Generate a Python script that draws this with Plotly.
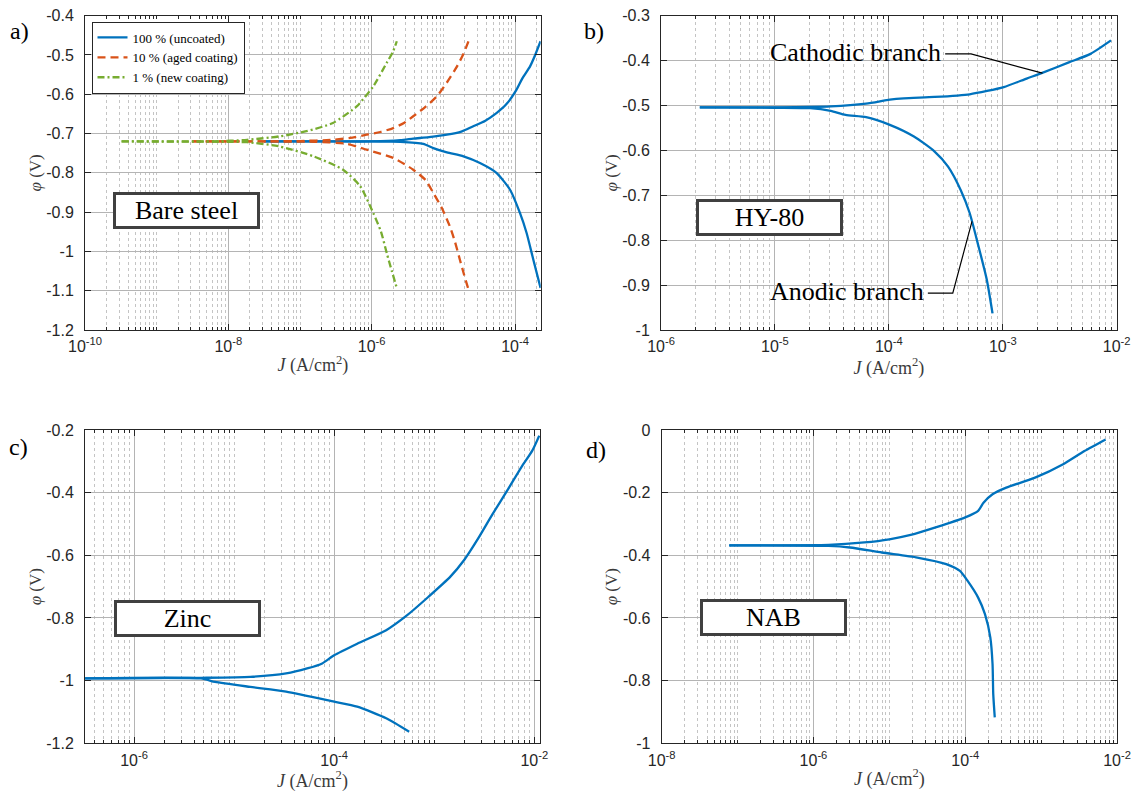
import math
import plotly.graph_objects as go

# ---------------- data (J in A/cm^2, phi in V) ----------------
# a) Bare steel
a_blue_cath_J = [3.16e-8, 1.0e-7, 3.16e-7, 1.0e-6, 2.51e-6, 3.80e-6, 6.31e-6, 1.12e-5, 1.78e-5, 2.57e-5,
                 3.80e-5, 5.50e-5, 7.59e-5, 1.05e-4, 1.26e-4, 1.62e-4, 1.91e-4, 2.27e-4]
a_blue_cath_V = [-0.720, -0.720, -0.720, -0.720, -0.717, -0.713, -0.709, -0.703, -0.695, -0.682,
                 -0.668, -0.648, -0.625, -0.588, -0.560, -0.529, -0.500, -0.465]
a_blue_an_J = [3.16e-8, 1.0e-6, 2.51e-6, 5.25e-6, 7.24e-6, 1.12e-5, 1.91e-5, 3.24e-5, 5.50e-5, 8.51e-5,
               1.17e-4, 1.45e-4, 1.80e-4, 2.27e-4]
a_blue_an_V = [-0.720, -0.720, -0.721, -0.726, -0.737, -0.748, -0.758, -0.775, -0.800, -0.843,
               -0.902, -0.953, -1.021, -1.093]
a_orange_cath_J = [3.16e-9, 3.16e-8, 1.0e-7, 2.88e-7, 5.01e-7, 8.51e-7, 1.32e-6, 2.0e-6, 2.82e-6, 3.80e-6,
                   5.62e-6, 8.13e-6, 1.12e-5, 1.55e-5, 1.91e-5, 2.24e-5]
a_orange_cath_V = [-0.720, -0.720, -0.719, -0.716, -0.711, -0.703, -0.696, -0.686, -0.673, -0.656,
                   -0.632, -0.605, -0.570, -0.529, -0.497, -0.465]
a_orange_an_J = [3.16e-9, 1.58e-7, 4.47e-7, 8.51e-7, 2.0e-6, 3.80e-6, 5.62e-6, 7.24e-6, 9.55e-6, 1.23e-5,
                 1.45e-5, 1.70e-5, 1.95e-5, 2.24e-5]
a_orange_an_V = [-0.720, -0.721, -0.726, -0.741, -0.762, -0.792, -0.818, -0.851, -0.890, -0.936,
                 -0.975, -1.021, -1.060, -1.097]
a_green_cath_J = [3.24e-10, 3.16e-9, 6.17e-9, 1.82e-8, 5.25e-8, 1.23e-7, 2.88e-7, 6.17e-7, 1.05e-6, 1.62e-6,
                  2.0e-6, 2.24e-6]
a_green_cath_V = [-0.720, -0.720, -0.720, -0.716, -0.707, -0.694, -0.673, -0.631, -0.580, -0.520,
                  -0.490, -0.465]
a_green_an_J = [3.24e-10, 1.0e-8, 1.82e-8, 5.25e-8, 1.55e-7, 3.98e-7, 6.92e-7, 1.05e-6, 1.35e-6, 1.62e-6,
                1.91e-6, 2.24e-6]
a_green_an_V = [-0.720, -0.721, -0.722, -0.733, -0.758, -0.792, -0.834, -0.902, -0.950, -1.004,
                -1.050, -1.093]
a_names = ["100 % (uncoated)", "10 % (aged coating)", "1 % (new coating)"]

# b) HY-80
b_cath_J = [2.19e-6, 1.0e-5, 3.09e-5, 6.31e-5, 1.02e-4, 1.35e-4, 2.51e-4, 5.13e-4, 1.02e-3, 1.62e-3,
            2.19e-3, 3.80e-3, 5.89e-3, 8.91e-3]
b_cath_V = [-0.504, -0.504, -0.502, -0.496, -0.487, -0.484, -0.481, -0.475, -0.459, -0.440,
            -0.428, -0.404, -0.385, -0.355]
b_an_J = [2.19e-6, 1.0e-5, 2.04e-5, 3.09e-5, 4.17e-5, 6.31e-5, 1.02e-4, 1.66e-4, 2.51e-4, 3.31e-4,
          4.27e-4, 5.13e-4, 6.03e-4, 7.24e-4, 8.13e-4]
b_an_V = [-0.504, -0.505, -0.506, -0.512, -0.521, -0.526, -0.543, -0.569, -0.602, -0.636,
          -0.688, -0.740, -0.807, -0.888, -0.963]
# leader lines of the branch labels (text end -> elbow -> point on curve)
b_cath_leader_J = [3.12e-4, 5.26e-4, 2.23e-3]
b_cath_leader_V = [-0.385, -0.385, -0.428]
b_an_leader_J = [2.20e-4, 3.64e-4, 5.37e-4]
b_an_leader_V = [-0.918, -0.918, -0.758]

# c) Zinc
c_cath_J = [3.24e-7, 4.68e-6, 1.45e-5, 3.31e-5, 5.37e-5, 7.59e-5, 1.0e-4, 1.70e-4, 3.31e-4, 5.37e-4,
            8.71e-4, 1.45e-3, 2.0e-3, 2.75e-3, 3.80e-3, 5.37e-3, 7.41e-3, 9.55e-3, 1.12e-2]
c_cath_V = [-0.993, -0.991, -0.988, -0.977, -0.961, -0.945, -0.919, -0.882, -0.839, -0.791,
            -0.733, -0.668, -0.614, -0.546, -0.470, -0.393, -0.319, -0.266, -0.218]
c_an_J = [3.24e-7, 4.68e-6, 6.46e-6, 1.45e-5, 3.31e-5, 1.0e-4, 1.70e-4, 3.31e-4, 5.62e-4]
c_an_V = [-0.993, -0.993, -1.004, -1.020, -1.035, -1.067, -1.083, -1.120, -1.163]

# d) NAB
d_cath_J = [7.76e-8, 1.58e-6, 4.68e-6, 1.0e-5, 1.91e-5, 4.07e-5, 1.0e-4, 1.48e-4, 1.74e-4, 2.29e-4,
            3.47e-4, 8.32e-4, 1.95e-3, 3.72e-3, 7.08e-3]
d_cath_V = [-0.368, -0.367, -0.359, -0.349, -0.335, -0.311, -0.279, -0.258, -0.232, -0.205,
            -0.184, -0.152, -0.109, -0.067, -0.030]
d_an_J = [7.76e-8, 1.58e-6, 3.02e-6, 7.94e-6, 2.34e-5, 5.62e-5, 8.51e-5, 1.07e-4, 1.48e-4, 1.82e-4,
          2.14e-4, 2.29e-4, 2.34e-4, 2.45e-4]
d_an_V = [-0.368, -0.370, -0.375, -0.391, -0.407, -0.428, -0.450, -0.481, -0.535, -0.588,
          -0.662, -0.747, -0.843, -0.917]

# axis ticks
a_xticks = [-10, -8, -6, -4]
b_xticks = [-6, -5, -4, -3, -2]
c_xticks = [-6, -4, -2]
d_xticks = [-8, -6, -4, -2]
a_yticks = [-1.2, -1.1, -1.0, -0.9, -0.8, -0.7, -0.6, -0.5, -0.4]
b_yticks = [-1.0, -0.9, -0.8, -0.7, -0.6, -0.5, -0.4, -0.3]
c_yticks = [-1.2, -1.0, -0.8, -0.6, -0.4, -0.2]
d_yticks = [-1.0, -0.8, -0.6, -0.4, -0.2, 0.0]
panel_titles = ["Bare steel", "HY-80", "Zinc", "NAB"]
panel_letters = ["a)", "b)", "c)", "d)"]

# ---------------- style ----------------
W, H = 1137, 797
BLUE, ORANGE, GREEN = "#0072BD", "#D95319", "#77AC30"
AX = "#262626"
SERIF = "Liberation Serif, Times New Roman, serif"
SANS = "Liberation Sans, Arial, sans-serif"


def px_x(p):
    return p / W


def px_y(p):
    return 1 - p / H


fig = go.Figure()


def line(x, y, n, color, dash, width=2.3, name=None, legend=False, smooth=True):
    fig.add_trace(go.Scatter(
        x=x, y=y, xaxis="x" + ("" if n == 1 else str(n)), yaxis="y" + ("" if n == 1 else str(n)),
        mode="lines",
        line=dict(color=color, width=width, dash=dash,
                  shape="spline" if smooth else "linear", smoothing=0.6 if smooth else None),
        name=name, showlegend=legend, hoverinfo="skip"))


DASH = "8px,5px"
DASHDOT = "7px,3px,2px,3px"

line(a_blue_cath_J, a_blue_cath_V, 1, BLUE, "solid", name=a_names[0], legend=True)
line(a_blue_an_J, a_blue_an_V, 1, BLUE, "solid")
line(a_orange_cath_J, a_orange_cath_V, 1, ORANGE, DASH, name=a_names[1], legend=True)
line(a_orange_an_J, a_orange_an_V, 1, ORANGE, DASH)
line(a_green_cath_J, a_green_cath_V, 1, GREEN, DASHDOT, name=a_names[2], legend=True)
line(a_green_an_J, a_green_an_V, 1, GREEN, DASHDOT)

line(b_cath_J, b_cath_V, 2, BLUE, "solid")
line(b_an_J, b_an_V, 2, BLUE, "solid")
line(b_cath_leader_J, b_cath_leader_V, 2, "black", "solid", width=1.2, smooth=False)
line(b_an_leader_J, b_an_leader_V, 2, "black", "solid", width=1.2, smooth=False)

line(c_cath_J, c_cath_V, 3, BLUE, "solid")
line(c_an_J, c_an_V, 3, BLUE, "solid")

line(d_cath_J, d_cath_V, 4, BLUE, "solid")
line(d_an_J, d_an_V, 4, BLUE, "solid")


def minor_vals(lo, hi, majors):
    vals = []
    for n in range(lo, hi + 1):
        if n not in majors:
            vals.append(10.0 ** n)
        for k in range(2, 10):
            vals.append(k * 10.0 ** n)
    return vals


def xaxis(dom, rng, majors, anchor):
    return dict(
        type="log", domain=dom, range=rng, anchor=anchor, automargin=False,
        tickvals=[10.0 ** m for m in majors],
        ticktext=["10<sup>%d</sup>" % m for m in majors],
        tickfont=dict(family=SANS, size=16, color=AX),
        ticks="inside", ticklen=6, tickwidth=1, tickcolor=AX, ticklabelstandoff=2,
        showline=True, linecolor=AX, linewidth=1, mirror="ticks",
        showgrid=True, gridcolor="#b4b4b4", gridwidth=1.2, zeroline=False,
        minor=dict(tickvals=minor_vals(int(math.floor(rng[0])), int(math.ceil(rng[1])), majors),
                   showgrid=True, gridcolor="#c4c4c4", griddash="dot", gridwidth=1,
                   ticks="inside", ticklen=3, tickcolor=AX),
        title=dict(text="<i>J</i> (A/cm<sup>2</sup>)", font=dict(family=SERIF, size=18, color="#3a3a3a"),
                   standoff=4),
    )


def yaxis(dom, rng, ticks, anchor):
    return dict(
        domain=dom, range=rng, anchor=anchor, automargin=False,
        tickvals=ticks, ticktext=["%g" % round(t, 2) if abs(t) > 1e-9 else "0" for t in ticks],
        tickfont=dict(family=SANS, size=16, color=AX),
        ticks="inside", ticklen=6, tickwidth=1, tickcolor=AX, ticklabelstandoff=7,
        showline=True, linecolor=AX, linewidth=1, mirror="ticks",
        showgrid=True, gridcolor="#b4b4b4", gridwidth=1.2, zeroline=False,
        title=dict(text="<i>φ</i> (V)", font=dict(family=SERIF, size=17, color="#3a3a3a"), standoff=0),
    )


top = [px_y(330), px_y(15.7)]
bot = [px_y(743.3), px_y(430.0)]
left_a = [px_x(85), px_x(540.7)]
right_b = [px_x(661), px_x(1116.7)]
left_c = [px_x(85), px_x(540)]
right_d = [px_x(661.7), px_x(1117)]

fig.update_layout(
    template="none",
    width=W, height=H, margin=dict(l=0, r=0, t=0, b=0, autoexpand=False),
    paper_bgcolor="white", plot_bgcolor="white",
    xaxis=xaxis(left_a, [-10, -3.642], a_xticks, "y"),
    yaxis=yaxis(top, [-1.2, -0.4], a_yticks, "x"),
    xaxis2=xaxis(right_b, [-6, -2], b_xticks, "y2"),
    yaxis2=yaxis(top, [-1.0, -0.3], b_yticks, "x2"),
    xaxis3=xaxis(left_c, [-6.49, -1.943], c_xticks, "y3"),
    yaxis3=yaxis(bot, [-1.2, -0.2], c_yticks, "x3"),
    xaxis4=xaxis(right_d, [-8, -2], d_xticks, "y4"),
    yaxis4=yaxis(bot, [-1.0, 0.0], d_yticks, "x4"),
    legend=dict(x=px_x(91.5), y=px_y(21.5), xanchor="left", yanchor="top",
                bgcolor="white", bordercolor=AX, borderwidth=1,
                font=dict(family=SERIF, size=13, color="black"),
                itemwidth=30, tracegroupgap=0),
    showlegend=True,
)

annots = []
box_centers = [(186.5, 210.5), (769.5, 217.0), (187.0, 618.0), (773.0, 617.0)]
for t, (cx, cy) in zip(panel_titles, box_centers):
    annots.append(dict(text=t, xref="paper", yref="paper", x=px_x(cx), y=px_y(cy),
                       xanchor="center", yanchor="middle", showarrow=False,
                       font=dict(family=SERIF, size=26, color="black"),
                       bgcolor="white", bordercolor="#404040", borderwidth=3, borderpad=0,
                       width=141, height=31))
letter_pos = [(19, 31), (594, 31), (18, 447), (596, 450)]
for t, (cx, cy) in zip(panel_letters, letter_pos):
    annots.append(dict(text=t, xref="paper", yref="paper", x=px_x(cx), y=px_y(cy),
                       xanchor="center", yanchor="middle", showarrow=False,
                       font=dict(family=SERIF, size=24, color="black")))
annots.append(dict(text="Cathodic branch", xref="x2", yref="y2",
                   x=math.log10(b_cath_leader_J[0]) - 0.02, y=b_cath_leader_V[0] + 0.002,
                   xanchor="right", yanchor="middle", showarrow=False,
                   font=dict(family=SERIF, size=26, color="black")))
annots.append(dict(text="Anodic branch", xref="x2", yref="y2",
                   x=math.log10(b_an_leader_J[0]) - 0.02, y=b_an_leader_V[0] + 0.004,
                   xanchor="right", yanchor="middle", showarrow=False,
                   font=dict(family=SERIF, size=26, color="black")))
fig.update_layout(annotations=annots)

fig.write_html("out.html", config={"displayModeBar": False},
               post_script="document.body.style.margin='0px';document.body.style.padding='0px';")
